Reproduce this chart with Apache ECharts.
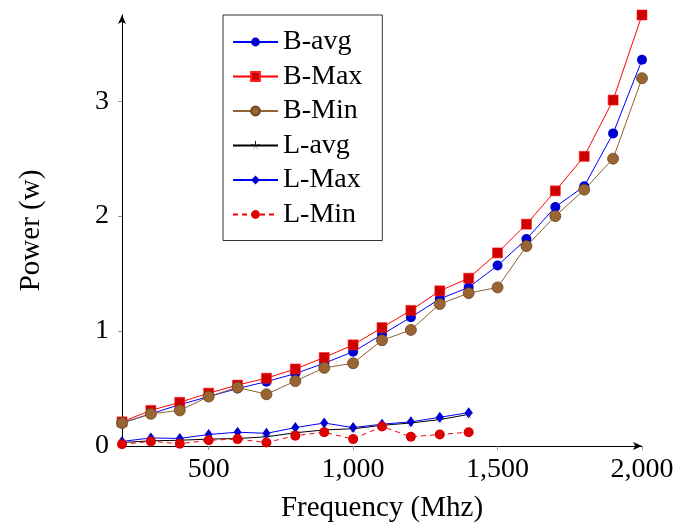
<!DOCTYPE html>
<html>
<head>
<meta charset="utf-8">
<script src="https://cdn.jsdelivr.net/npm/echarts@6/dist/echarts.min.js"></script>
<style>
    html, body { margin: 0; padding: 0; background: #fff; }
    #power_chart { width: 673px; height: 524px; }
</style>
</head>
<body>
<div id="power_chart"></div>
<script>
// frequency (Mhz)
var freqB = [200, 300, 400, 500, 600, 700, 800, 900, 1000, 1100, 1200, 1300, 1400, 1500, 1600, 1700, 1800, 1900, 2000];
var freqL = [200, 300, 400, 500, 600, 700, 800, 900, 1000, 1100, 1200, 1300, 1400];

// power (w)
var bAvg = [0.20, 0.28, 0.36, 0.43, 0.50, 0.56, 0.63, 0.72, 0.82, 0.97, 1.12, 1.28, 1.38, 1.57, 1.80, 2.08, 2.26, 2.72, 3.36];
var bMax = [0.21, 0.31, 0.38, 0.46, 0.53, 0.59, 0.67, 0.77, 0.88, 1.03, 1.18, 1.35, 1.46, 1.68, 1.93, 2.22, 2.52, 3.01, 3.75];
var bMin = [0.20, 0.28, 0.31, 0.43, 0.51, 0.45, 0.565, 0.68, 0.72, 0.92, 1.01, 1.235, 1.33, 1.38, 1.74, 2.00, 2.23, 2.50, 3.20];
var lAvg = [0.03, 0.045, 0.05, 0.06, 0.065, 0.08, 0.115, 0.14, 0.15, 0.18, 0.20, 0.23, 0.275];
var lMax = [0.04, 0.07, 0.066, 0.10, 0.12, 0.11, 0.16, 0.20, 0.16, 0.19, 0.21, 0.25, 0.29];
var lMin = [0.015, 0.04, 0.02, 0.05, 0.06, 0.03, 0.09, 0.12, 0.06, 0.17, 0.08, 0.10, 0.12];

var xTicks = [500, 1000, 1500, 2000];
var yTicks = [0, 1, 2, 3];

var FONT = '"Liberation Serif", "DejaVu Serif", serif';

function pairs(xs, ys) {
    return xs.map(function (x, i) { return [x, ys[i]]; });
}

// 5-arm asterisk mark, like pgfplots "star"
function starPath() {
    var p = '';
    for (var k = 0; k < 5; k++) {
        var a = (90 + k * 72) * Math.PI / 180;
        var c = Math.cos(a), s = Math.sin(a), w = 0.1;
        var pts = [[-s * w, c * w], [c + -s * w, -s + c * w], [c + s * w, -s - c * w], [s * w, -c * w]];
        p += 'M' + pts.map(function (q) { return q[0].toFixed(3) + ',' + q[1].toFixed(3); }).join('L') + 'Z';
    }
    return 'path://' + p;
}

var chart = echarts.init(document.getElementById('power_chart'));

var option = {
    animation: false,
    backgroundColor: '#fff',
    grid: {
        left: 122,
        right: 31,
        top: 15,
        bottom: 78,
        outerBoundsMode: 'none'
    },
    legend: {
        orient: 'vertical',
        left: 223,
        top: 15,
        padding: [12, 20, 11, 9],
        itemGap: 4.5,
        itemWidth: 45,
        itemHeight: 11,
        backgroundColor: '#fff',
        borderColor: '#333',
        borderWidth: 1,
        borderRadius: 0,
        textStyle: { fontFamily: FONT, fontSize: 28, color: '#000', lineHeight: 30 },
        data: ['B-avg', 'B-Max', 'B-Min', 'L-avg', 'L-Max', 'L-Min']
    },
    xAxis: {
        type: 'value',
        min: 200,
        max: 2000,
        name: 'Frequency (Mhz)',
        nameLocation: 'middle',
        nameGap: 48,
        nameTextStyle: { fontFamily: FONT, fontSize: 29, color: '#000' },
        axisLine: { show: true, lineStyle: { color: '#000', width: 1 }, symbol: ['none', 'arrow'], symbolSize: [6, 9] },
        axisTick: { show: true, customValues: xTicks, length: 4, lineStyle: { color: '#999' } },
        axisLabel: {
            customValues: xTicks,
            margin: 10,
            fontFamily: FONT,
            fontSize: 28,
            color: '#000',
            formatter: function (v) { return v >= 1000 ? Math.floor(v / 1000) + ',' + String(v % 1000).padStart(3, '0') : String(v); }
        },
        splitLine: { show: false }
    },
    yAxis: {
        type: 'value',
        min: 0,
        max: 3.75,
        name: 'Power (w)',
        nameLocation: 'middle',
        nameGap: 76,
        nameTextStyle: { fontFamily: FONT, fontSize: 29, color: '#000' },
        axisLine: { show: true, lineStyle: { color: '#000', width: 1 }, symbol: ['none', 'arrow'], symbolSize: [6, 9] },
        axisTick: { show: true, customValues: yTicks, length: 4, lineStyle: { color: '#999' } },
        axisLabel: { customValues: yTicks, margin: 13, fontFamily: FONT, fontSize: 28, color: '#000' },
        splitLine: { show: false }
    },
    series: [
        {
            name: 'B-avg', type: 'line', data: pairs(freqB, bAvg),
            symbol: 'circle', symbolSize: 10,
            lineStyle: { color: '#0000ff', width: 1 },
            itemStyle: { color: '#0000d0', borderColor: '#0000d0', borderWidth: 0 }
        },
        {
            name: 'B-Max', type: 'line', data: pairs(freqB, bMax),
            symbol: 'rect', symbolSize: 10,
            lineStyle: { color: '#ff0000', width: 1 },
            itemStyle: { color: '#d00000', borderColor: '#ff2020', borderWidth: 0.6 }
        },
        {
            name: 'B-Min', type: 'line', data: pairs(freqB, bMin),
            symbol: 'circle', symbolSize: 11,
            lineStyle: { color: '#8f6235', width: 1 },
            itemStyle: { color: '#996633', borderColor: '#6b4520', borderWidth: 0.8 }
        },
        {
            name: 'L-avg', type: 'line', data: pairs(freqL, lAvg),
            symbol: starPath(), symbolSize: 8,
            lineStyle: { color: '#000', width: 1 },
            itemStyle: { color: '#000' }
        },
        {
            name: 'L-Max', type: 'line', data: pairs(freqL, lMax),
            symbol: 'diamond', symbolSize: [8, 11],
            lineStyle: { color: '#0000ff', width: 1 },
            itemStyle: { color: '#0000d0' }
        },
        {
            name: 'L-Min', type: 'line', data: pairs(freqL, lMin),
            symbol: 'circle', symbolSize: 10,
            lineStyle: { color: '#ff0000', width: 1, type: [5, 4] },
            itemStyle: { color: '#dd0000' }
        }
    ]
};

chart.setOption(option);
</script>
</body>
</html>
